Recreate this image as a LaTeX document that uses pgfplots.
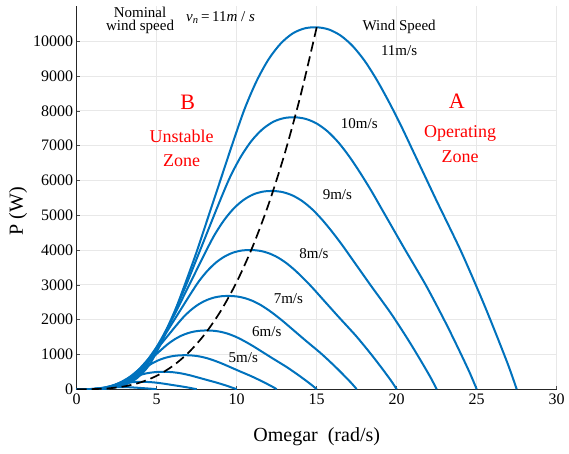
\documentclass[border=0pt]{standalone}
\usepackage{pgfplots}
\pgfplotsset{compat=1.18}
\usepackage{fontspec}
\setmainfont{Liberation Serif}
\definecolor{mblue}{RGB}{0,114,189}
\tikzset{curve/.style={mblue, line width=2pt, smooth, no markers}}
\begin{document}
\begin{tikzpicture}
\useasboundingbox (-76.7pt,-63.8pt) rectangle (492.3pt,389.2pt);
\begin{axis}[
  at={(0,0)}, anchor=south west,
  scale only axis, width=480pt, height=382.8pt,
  xmin=0, xmax=30, ymin=0, ymax=11000,
  xtick={0,5,...,30}, ytick={0,1000,...,10000},
  scaled y ticks=false, scaled x ticks=false,
  axis lines=left, axis line style={-, line width=1pt, black!85},
  tick align=inside, major tick length=3.5pt, tick style={black!70, line width=0.6pt},
  grid=major, major grid style={gray!18, line width=0.7pt},
  /pgf/number format/assume math mode=true,
  /pgf/number format/1000 sep={},
  ticklabel style={font=\fontsize{16}{18}\selectfont},
  xticklabel style={yshift=-1pt},
  xlabel={Omegar~~(rad/s)}, ylabel={P (W)},
  label style={font=\fontsize{20}{24}\selectfont},
  xlabel style={at={(axis description cs:0.5,-0.123)}, anchor=center},
  ylabel style={at={(axis description cs:-0.1223,0.465)}, anchor=center},
  clip=true,
]
% 11 m/s
\addplot[curve] coordinates {(0,0)(0.75,2.1)(1.5,12.5)(2.25,46.8)(3,124.8)(3.75,312)(4.5,676)(5.25,1300)(6,2080)(6.75,2995.2)(7.5,3952)(8.25,4992)(9,6032)(9.75,7072)(10.5,8060)(11.25,8860.8)(12,9484.8)(12.75,9932)(13.5,10223.2)(14.25,10368.8)(15,10400)(15.75,10337.6)(16.5,10160.8)(17.25,9859.2)(18,9432.8)(18.75,8892)(19.5,8268)(20.25,7592)(21,6864)(21.75,6136)(22.5,5408)(23.25,4700.8)(24,3983.2)(24.75,3203.2)(25.5,2392)(26.25,1539.2)(27,655.2)(27.5,0)};
% 10 m/s
\addplot[curve] coordinates {(0,0)(0.682,1.6)(1.364,9.4)(2.045,35.2)(2.727,93.8)(3.409,234.4)(4.091,507.9)(4.773,976.7)(5.455,1562.7)(6.136,2250.3)(6.818,2969.2)(7.5,3750.6)(8.182,4532)(8.864,5313.3)(9.545,6055.6)(10.227,6657.3)(10.909,7126.1)(11.591,7462.1)(12.273,7680.9)(12.955,7790.3)(13.636,7813.7)(14.318,7766.8)(15,7634)(15.682,7407.4)(16.364,7087)(17.045,6680.7)(17.727,6211.9)(18.409,5704)(19.091,5157)(19.773,4610.1)(20.455,4063.1)(21.136,3531.8)(21.818,2992.6)(22.5,2406.6)(23.182,1797.2)(23.864,1156.4)(24.545,492.3)(25,0)};
% 9 m/s
\addplot[curve] coordinates {(0,0)(0.614,1.1)(1.227,6.8)(1.841,25.6)(2.455,68.4)(3.068,170.9)(3.682,370.2)(4.295,712)(4.909,1139.2)(5.523,1640.4)(6.136,2164.5)(6.75,2734.1)(7.364,3303.7)(7.977,3873.3)(8.591,4414.4)(9.205,4853)(9.818,5194.8)(10.432,5439.7)(11.045,5599.2)(11.659,5678.9)(12.273,5696)(12.886,5661.8)(13.5,5565)(14.114,5399.8)(14.727,5166.3)(15.341,4870.1)(15.955,4528.3)(16.568,4158.1)(17.182,3759.4)(17.795,3360.6)(18.409,2961.9)(19.023,2574.6)(19.636,2181.6)(20.25,1754.4)(20.864,1310.1)(21.477,843)(22.091,358.8)(22.5,0)};
% 8 m/s
\addplot[curve] coordinates {(0,0)(0.545,0.8)(1.091,4.8)(1.636,18)(2.182,48)(2.727,120)(3.273,260)(3.818,500)(4.364,800)(4.909,1152)(5.455,1520)(6,1920)(6.545,2320)(7.091,2720)(7.636,3100)(8.182,3408)(8.727,3648)(9.273,3820)(9.818,3932)(10.364,3988)(10.909,4000)(11.455,3976)(12,3908)(12.545,3792)(13.091,3628)(13.636,3420)(14.182,3180)(14.727,2920)(15.273,2640)(15.818,2360)(16.364,2080)(16.909,1808)(17.455,1532)(18,1232)(18.545,920)(19.091,592)(19.636,252)(20,0)};
% 7 m/s
\addplot[curve] coordinates {(0,0)(0.477,0.5)(0.955,3.2)(1.432,12.1)(1.909,32.2)(2.386,80.4)(2.864,174.2)(3.341,335)(3.818,536)(4.295,771.8)(4.773,1018.4)(5.25,1286.4)(5.727,1554.4)(6.205,1822.4)(6.682,2077)(7.159,2283.4)(7.636,2444.2)(8.114,2559.4)(8.591,2634.4)(9.068,2672)(9.545,2680)(10.023,2663.9)(10.5,2618.4)(10.977,2540.6)(11.455,2430.8)(11.932,2291.4)(12.409,2130.6)(12.886,1956.4)(13.364,1768.8)(13.841,1581.2)(14.318,1393.6)(14.795,1211.4)(15.273,1026.4)(15.75,825.4)(16.227,616.4)(16.705,396.6)(17.182,168.8)(17.5,0)};
% 6 m/s
\addplot[curve] coordinates {(0,0)(0.409,0.3)(0.818,2)(1.227,7.6)(1.636,20.3)(2.045,50.6)(2.455,109.7)(2.864,211)(3.273,337.5)(3.682,486.1)(4.091,641.3)(4.5,810.1)(4.909,978.9)(5.318,1147.6)(5.727,1308)(6.136,1437.9)(6.545,1539.2)(6.955,1611.8)(7.364,1659)(7.773,1682.6)(8.182,1687.7)(8.591,1677.6)(9,1648.9)(9.409,1600)(9.818,1530.7)(10.227,1443)(10.636,1341.7)(11.045,1232)(11.455,1113.9)(11.864,995.7)(12.273,877.6)(12.682,762.8)(13.091,646.4)(13.5,519.8)(13.909,388.2)(14.318,249.8)(14.727,106.3)(15,0)};
% 5 m/s
\addplot[curve] coordinates {(0,0)(0.341,0.2)(0.682,1.2)(1.023,4.4)(1.364,11.7)(1.705,29.3)(2.045,63.5)(2.386,122.1)(2.727,195.3)(3.068,281.3)(3.409,371.1)(3.75,468.8)(4.091,566.5)(4.432,664.2)(4.773,756.9)(5.114,832.1)(5.455,890.8)(5.795,932.7)(6.136,960.1)(6.477,973.8)(6.818,976.7)(7.159,970.8)(7.5,954.2)(7.841,925.9)(8.182,885.9)(8.523,835.1)(8.864,776.5)(9.205,713)(9.545,644.6)(9.886,576.3)(10.227,507.9)(10.568,441.5)(10.909,374.1)(11.25,300.8)(11.591,224.6)(11.932,144.6)(12.273,61.5)(12.5,0)};
% 4 m/s
\addplot[curve] coordinates {(0,0)(0.545,0.6)(1.091,6)(1.636,32.5)(2.182,100)(2.727,190)(3.273,290)(3.818,388)(4.364,456)(4.909,491.6)(5.455,500.1)(6,488.6)(6.545,453.6)(7.091,397.6)(7.636,330.1)(8.182,260.1)(8.727,191.5)(9.273,115)(10,0)};
% 3 m/s
\addplot[curve] coordinates {(0,0)(0.409,0.25)(0.818,2.5)(1.227,13.7)(1.636,42.2)(2.045,80.2)(2.455,122.4)(2.864,163.5)(3.273,192.4)(3.682,207.4)(4.091,211)(4.5,206.1)(4.909,191.4)(5.318,167.7)(5.727,139.3)(6.136,109.7)(6.545,80.8)(6.955,48.5)(7.5,0)};
% 2 m/s
\addplot[curve] coordinates {(0,0)(0.273,0.08)(0.545,0.75)(0.818,4.1)(1.091,12.5)(1.364,23.8)(1.636,36.3)(1.909,48.4)(2.182,57)(2.455,61.4)(2.727,62.5)(3,61.1)(3.273,56.7)(3.545,49.7)(3.818,41.3)(4.091,32.5)(4.364,23.9)(4.636,14.4)(5,0)};
% optimum power curve
\addplot[black, line width=1.7pt, dash pattern=on 10pt off 5pt, smooth, no markers] coordinates {(0,0)(1,3.1)(2,24.7)(3,83.2)(4,197.2)(5,385.2)(6,665.6)(7,1057)(8,1577.7)(9,2246.4)(10,3081.5)(11,4101.5)(12,5324.8)(13,6770)(14,8455.6)(15,10400)};
% annotations
\begin{scope}[every node/.style={font=\fontsize{15}{17}\selectfont, inner sep=0pt, align=center}]
\node at (axis cs:3.96,10830) {Nominal};
\node at (axis cs:3.96,10400) {wind speed};
\node at (axis cs:8.99,10690) {\textit{v}\textsubscript{\textit{n}}\,=\,11\textit{m} / \textit{s}};
\node at (axis cs:20.15,10420) {Wind Speed};
\node at (axis cs:20.15,9718) {11m/s};
\node at (axis cs:17.66,7641) {10m/s};
\node at (axis cs:16.29,5580) {9m/s};
\node at (axis cs:14.83,3905) {8m/s};
\node at (axis cs:13.23,2592) {7m/s};
\node at (axis cs:11.88,1652) {6m/s};
\node at (axis cs:10.41,905) {5m/s};
\node[text=red, font=\fontsize{22}{24}\selectfont] at (axis cs:6.94,8233) {B};
\node[text=red, font=\fontsize{18}{20}\selectfont] at (axis cs:6.56,7256) {Unstable};
\node[text=red, font=\fontsize{18}{20}\selectfont] at (axis cs:6.56,6566) {Zone};
\node[text=red, font=\fontsize{22}{24}\selectfont] at (axis cs:23.75,8262) {A};
\node[text=red, font=\fontsize{18}{20}\selectfont] at (axis cs:23.96,7362) {Operating};
\node[text=red, font=\fontsize{18}{20}\selectfont] at (axis cs:23.96,6672) {Zone};
\end{scope}
\end{axis}
\end{tikzpicture}
\end{document}
